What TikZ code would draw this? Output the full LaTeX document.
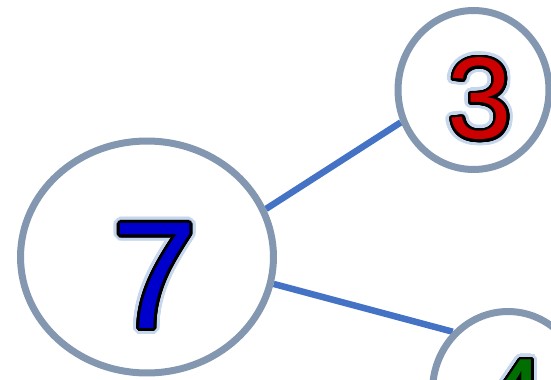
\documentclass[tikz,border=0pt]{standalone}
\usepackage{fontspec}
\setmainfont{Liberation Sans}
\usepackage{contour}
\usetikzlibrary{shapes.geometric, backgrounds, positioning}

\definecolor{ringgray}{HTML}{8497B0}
\definecolor{linkblue}{HTML}{4472C4}
\definecolor{glowblue}{HTML}{C6D6EC}
\definecolor{digitblue}{HTML}{0000CC}
\definecolor{digitred}{HTML}{CC0000}
\definecolor{digitgreen}{HTML}{006E00}

\contournumber{32}
\newcommand\bonddigit[2]{\rlap{\contourlength{3.4pt}\textcolor{glowblue}{\contour{glowblue}{#2}}}\contourlength{1.5pt}\textcolor{#1}{\contour{black}{#2}}}

\begin{document}
\begin{tikzpicture}[x=0.02cm, y=-0.02cm,
  ring/.style={ellipse, draw=ringgray, line width=0.14cm, fill=white, inner sep=0pt},
  link/.style={draw=linkblue, line width=0.13cm}]
\useasboundingbox (0,0) rectangle (551,379);

\node[ring, minimum width=5.06cm, minimum height=4.64cm](N7) at (147,257) {};
\node[ring, minimum width=3.02cm, minimum height=3.18cm](N3) at (473.5,90) {};
\node[ring, minimum width=3.02cm, minimum height=3.18cm](N4) at (508,391) {};

\node(D7) at (155,279) {\fontsize{87}{87}\selectfont\bonddigit{digitblue}{7}};
\node(D3) at (480,102) {\fontsize{66}{66}\selectfont\bonddigit{digitred}{3}};
\node(D4) at (514,403) {\fontsize{66}{66}\selectfont\bonddigit{digitgreen}{4}};

\begin{scope}[on background layer]
\draw[link] (N7.22) -- (N3.204);
\draw[link] (N7.348) -- (N4.133);
\end{scope}
\end{tikzpicture}
\end{document}
